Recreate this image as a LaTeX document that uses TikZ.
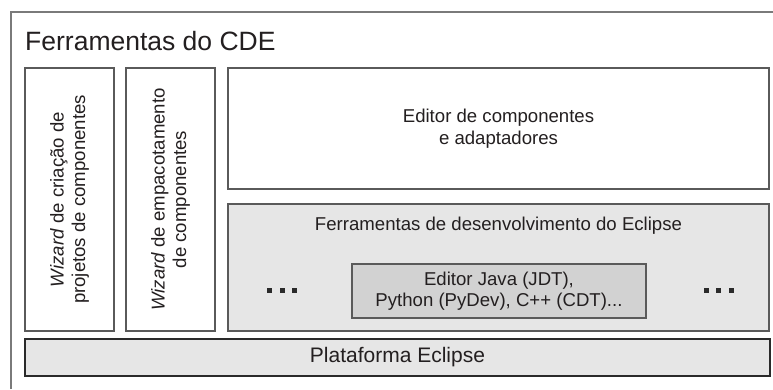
\documentclass[tikz,border=0pt]{standalone}
\usepackage{fontspec}
\setmainfont{Liberation Sans}
\definecolor{bordc}{HTML}{5A5A5A}
\definecolor{darkb}{HTML}{2A2A2A}
\definecolor{framec}{HTML}{7A7A7A}
\definecolor{lightg}{HTML}{E6E6E6}
\definecolor{midg}{HTML}{D2D2D2}
\definecolor{txt}{HTML}{231F20}
\begin{document}
\begin{tikzpicture}[x=1pt,y=-1pt,
  box/.style={draw=bordc, line width=1.2pt, inner sep=0pt, outer sep=0pt, anchor=center},
  lbl/.style={text=txt, font=\fontsize{18.6}{21.5}\selectfont, align=center, inner sep=0pt},
  dotsq/.style={fill=darkb, draw=none, minimum size=5pt, inner sep=0pt}]
\useasboundingbox (0,0) rectangle (773,389);
\fill[white] (0,0) rectangle (773,389);
% outer frame (clipped on right and bottom)
\coordinate (fbl) at (11,389);
\coordinate (ftl) at (11,12);
\coordinate (ftr) at (773,12);
\draw[framec, line width=1.2pt] (fbl) -- (ftl) -- (ftr);
\node[anchor=base west, text=txt, font=\fontsize{26.5}{30}\selectfont, inner sep=0pt] (title) at (25,50) {Ferramentas do CDE};
% boxes
\node[box, fill=white, minimum width=89pt, minimum height=263pt] (wiz1) at (69.5,199.5) {};
\node[box, fill=white, minimum width=89pt, minimum height=263pt] (wiz2) at (170.5,199.5) {};
\node[box, fill=white, minimum width=541pt, minimum height=121pt] (edit) at (498.5,128.5) {};
\node[box, fill=lightg, minimum width=541pt, minimum height=127pt] (ferr) at (498.5,267.5) {};
\node[box, fill=midg, minimum width=294pt, minimum height=54pt] (inner) at (499,291) {};
\node[box, draw=darkb, fill=lightg, minimum width=745pt, minimum height=37pt] (plat) at (397.5,357.5) {};
% labels
\node[lbl, rotate=90] (wiz1t) at (wiz1.center) {\textit{Wizard} de criação de\\projetos de componentes};
\node[lbl, rotate=90] (wiz2t) at (wiz2.center) {\textit{Wizard} de empacotamento\\de componentes};
\node[lbl] (editt) at (edit.center) {Editor de componentes\\e adaptadores};
\node[lbl] (ferrt) at (498.5,226) {Ferramentas de desenvolvimento do Eclipse};
\node[lbl] (innert) at (inner.center) {Editor Java (JDT),\\Python (PyDev), C++ (CDT)...};
\node[lbl, font=\fontsize{21}{24}\selectfont] (platt) at (plat.center) {Plataforma Eclipse};
% dots
\node[dotsq] (dl1) at (269.7,290.5) {};
\node[dotsq] (dl2) at (282.2,290.5) {};
\node[dotsq] (dl3) at (294.7,290.5) {};
\node[dotsq] (dr1) at (706.3,290.5) {};
\node[dotsq] (dr2) at (718.7,290.5) {};
\node[dotsq] (dr3) at (731.1,290.5) {};
\end{tikzpicture}
\end{document}
